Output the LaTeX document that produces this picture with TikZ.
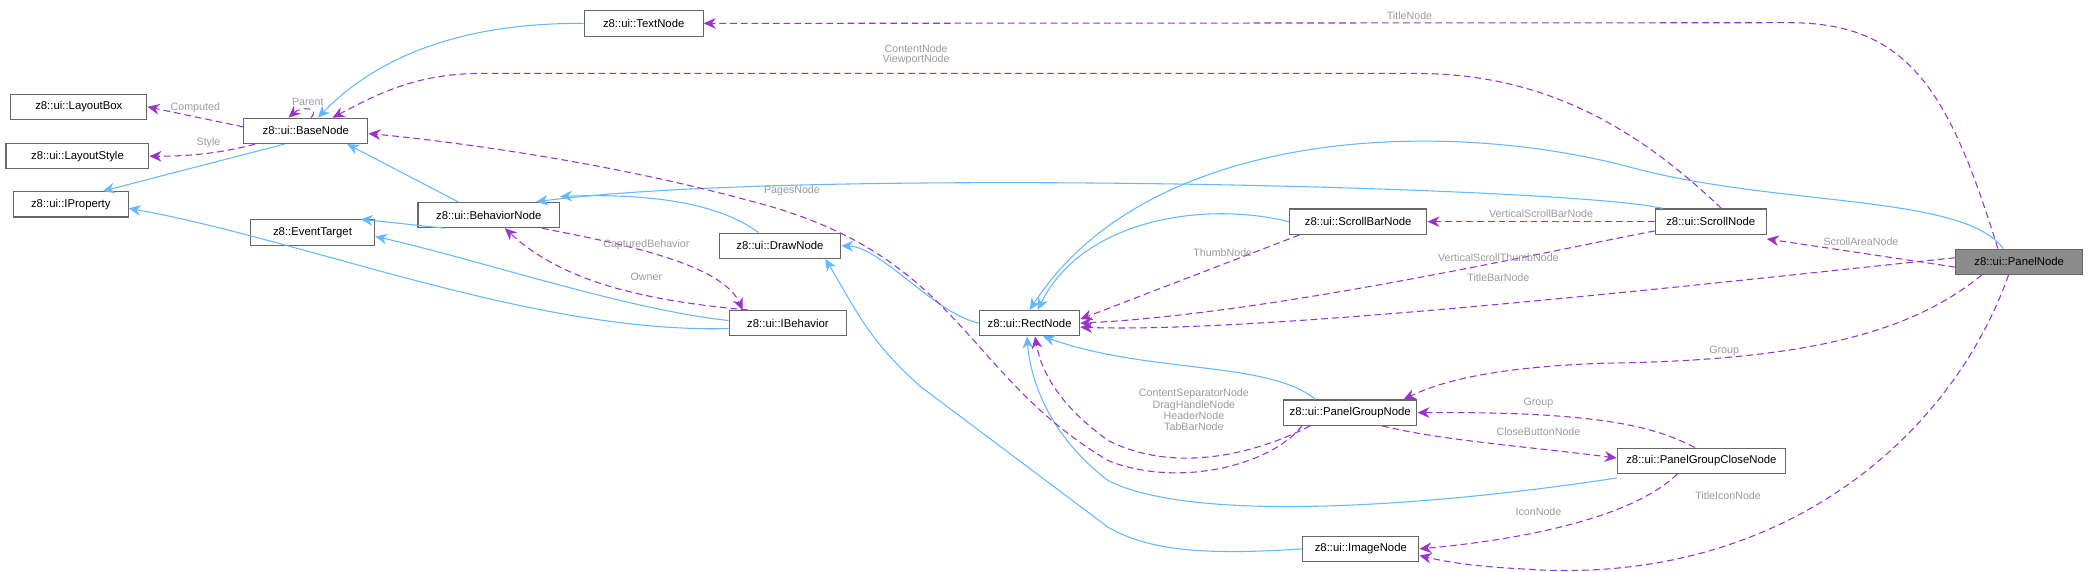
\documentclass[tikz,border=0pt]{standalone}
\usepackage{fontspec}
\setmainfont{Liberation Sans}
\usetikzlibrary{arrows.meta}
\definecolor{inh}{HTML}{63B8FF}
\definecolor{rel}{HTML}{9A32CD}
\definecolor{lbl}{HTML}{9A9A9A}
\begin{document}
\begin{tikzpicture}[x=1pt,y=-1pt,
  box/.style={draw=black!60,fill=white,line width=0.8pt,minimum height=19pt,inner xsep=2pt,font=\fontsize{8.5}{9}\selectfont},
  hl/.style={box,fill=black!45},
  inh/.style={draw=inh,line width=0.8pt,-{Stealth[length=9pt,width=8pt]}},
  rel/.style={draw=rel,line width=0.8pt,dash pattern=on 5pt off 3pt,-{Stealth[length=9pt,width=8pt]}},
  lb/.style={text=lbl,font=\fontsize{8}{9.5}\selectfont,align=center}]
\useasboundingbox (0,0) rectangle (1568,428);
\node[box,minimum width=89] (text) at (482,17.5) {z8::ui::TextNode};
\node[box,minimum width=102] (lbox) at (59,80) {z8::ui::LayoutBox};
\node[box,minimum width=107] (lsty) at (58,117) {z8::ui::LayoutStyle};
\node[box,minimum width=93] (base) at (229,98) {z8::ui::BaseNode};
\node[box,minimum width=86] (iprop) at (53,153) {z8::ui::IProperty};
\node[box,minimum width=106] (beh) at (366,161) {z8::ui::BehaviorNode};
\node[box,minimum width=93] (evt) at (234,174) {z8::EventTarget};
\node[box,minimum width=91] (draw) at (584,184) {z8::ui::DrawNode};
\node[box,minimum width=88] (ibeh) at (590,242) {z8::ui::IBehavior};
\node[box,minimum width=75] (rect) at (771,242) {z8::ui::RectNode};
\node[box,minimum width=103] (sbar) at (1017,166) {z8::ui::ScrollBarNode};
\node[box,minimum width=83] (scroll) at (1281,166) {z8::ui::ScrollNode};
\node[hl,minimum width=95] (panel) at (1512,196) {z8::ui::PanelNode};
\node[box,minimum width=100] (pg) at (1011,309) {z8::ui::PanelGroupNode};
\node[box,minimum width=126] (pgc) at (1274,345) {z8::ui::PanelGroupCloseNode};
\node[box,minimum width=87] (img) at (1019,411) {z8::ui::ImageNode};
% inheritance
\draw[inh] (text.west) .. controls (350,17) and (285,40) .. ([xshift=9pt]base.north);
\draw[inh] ([xshift=-16pt]base.south) -- ([xshift=24pt]iprop.north);
\draw[inh] ([xshift=-23pt]beh.north) -- ([xshift=31pt]base.south);
\draw[inh] ([xshift=-33pt]beh.south) -- ([xshift=36pt]evt.north);
\draw[inh] ([yshift=2pt]ibeh.west) .. controls (470,232) and (360,195) .. ([yshift=-3pt]evt.east);
\draw[inh] ([yshift=-4pt]ibeh.west) .. controls (400,250) and (230,180) .. ([yshift=-3pt]iprop.east);
\draw[inh] ([xshift=-16pt]draw.north) .. controls (535,150) and (480,145) .. ([yshift=4pt]beh.north east);
\draw[inh] (rect.west) .. controls (700,235) and (660,185) .. (draw.east);
\draw[inh] ([xshift=-36pt]scroll.north) .. controls (1180,140) and (600,125) .. ([xshift=-18pt]beh.north east);
\draw[inh] (sbar.west) .. controls (900,150) and (810,165) .. ([xshift=6pt]rect.north);
\draw[inh] ([xshift=-12pt]panel.north) .. controls (1470,145) and (1330,155) .. (1220,125) .. controls (1080,88) and (860,95) .. (rect.north);
\draw[inh] ([xshift=-26pt]pg.north) .. controls (950,270) and (860,280) .. ([xshift=10pt]rect.south);
\draw[inh] ([yshift=-3pt]pgc.south west) .. controls (1100,375) and (900,395) .. (830,360) .. controls (790,330) and (772,290) .. ([xshift=-2pt]rect.south);
\draw[inh] (img.west) .. controls (900,416) and (860,412) .. (830,395) -- (690,290) .. controls (650,255) and (640,230) .. ([xshift=34pt]draw.south);
% relations
\draw[rel] ([xshift=-16pt]panel.north) .. controls (1460,70) and (1430,17) .. (1340,17) -- (text.east) node[lb,pos=0.35,above=-1pt] {TitleNode};
\draw[rel] ([xshift=8pt]scroll.north) .. controls (1220,90) and (1150,55) .. (1060,55) -- (360,55) .. controls (310,55) and (280,72) .. ([xshift=20pt]base.north);
\node[lb] (l1) at (686,41) {ContentNode\\[-2pt]ViewportNode};
\draw[rel] ([yshift=3pt]base.west) -- (lbox.east) node[lb,midway,above=-1pt] {Computed};
\draw[rel] ([xshift=-38pt]base.south) .. controls (165,115) and (140,117) .. (lsty.east) node[lb,pos=0.45,above=0pt] {Style};
\draw[rel] ([xshift=4pt]base.north) .. controls (240,80) and (225,80) .. ([xshift=-13pt]base.north) node[lb,pos=0.5,above=-1pt] {Parent};
\draw[rel] ([xshift=-36pt]pg.south) .. controls (950,350) and (880,365) .. (830,345) .. controls (720,280) and (720,190) .. (560,150) .. controls (450,120) and (330,105) .. ([yshift=-2pt]base.east);
\node[lb] at (593,143) {PagesNode};
\draw[rel] ([xshift=-30pt]pg.south) .. controls (940,340) and (880,355) .. (830,330) .. controls (795,305) and (780,280) .. ([xshift=4pt]rect.south);
\node[lb] at (894,307) {ContentSeparatorNode\\[-1pt]DragHandleNode\\[-1pt]HeaderNode\\[-1pt]TabBarNode};
\draw[rel] ([xshift=-30pt]ibeh.north) .. controls (480,225) and (420,210) .. ([xshift=12pt]beh.south);
\node[lb] at (484,207) {Owner};
\draw[rel] ([xshift=40pt]beh.south) .. controls (450,180) and (540,195) .. ([xshift=-34pt]ibeh.north);
\node[lb] at (484,183) {CapturedBehavior};
\draw[rel] (scroll.west) -- (sbar.east) node[lb,midway,above=-1pt] {VerticalScrollBarNode};
\draw[rel] ([xshift=8pt]sbar.south west) -- ([yshift=3pt]rect.east) node[lb,pos=0.35,above=2pt] {ThumbNode};
\draw[rel] ([yshift=3pt]scroll.south west) .. controls (1150,190) and (950,235) .. (rect.east);
\node[lb] at (1122,193) {VerticalScrollThumbNode};
\draw[rel] ([yshift=3pt]panel.west) .. controls (1300,210) and (950,250) .. ([yshift=-3pt]rect.east);
\node[lb] at (1122,208) {TitleBarNode};
\draw[rel] ([yshift=-4pt]panel.west) -- ([yshift=-3pt]scroll.south east) node[lb,midway,above=2pt] {ScrollAreaNode};
\draw[rel] ([xshift=-28pt]panel.south) .. controls (1430,250) and (1350,270) .. (1200,272) .. controls (1120,275) and (1080,285) .. ([xshift=40pt]pg.north);
\node[lb] at (1291,263) {Group};
\draw[rel] ([xshift=-5pt]pgc.north) .. controls (1240,320) and (1200,308) .. (pg.east);
\node[lb] at (1152,302) {Group};
\draw[rel] ([xshift=24pt]pg.south) .. controls (1080,330) and (1150,335) .. ([yshift=2pt]pgc.west);
\node[lb] at (1152,323) {CloseButtonNode};
\draw[rel] ([xshift=-18pt]pgc.south) .. controls (1220,390) and (1130,405) .. (img.east);
\node[lb] at (1152,383) {IconNode};
\draw[rel] ([xshift=-8pt]panel.south) .. controls (1460,330) and (1330,440) .. (1140,426) .. controls (1100,424) and (1080,420) .. ([yshift=-5pt]img.east);
\node[lb] at (1294,371) {TitleIconNode};
\end{tikzpicture}
\end{document}
